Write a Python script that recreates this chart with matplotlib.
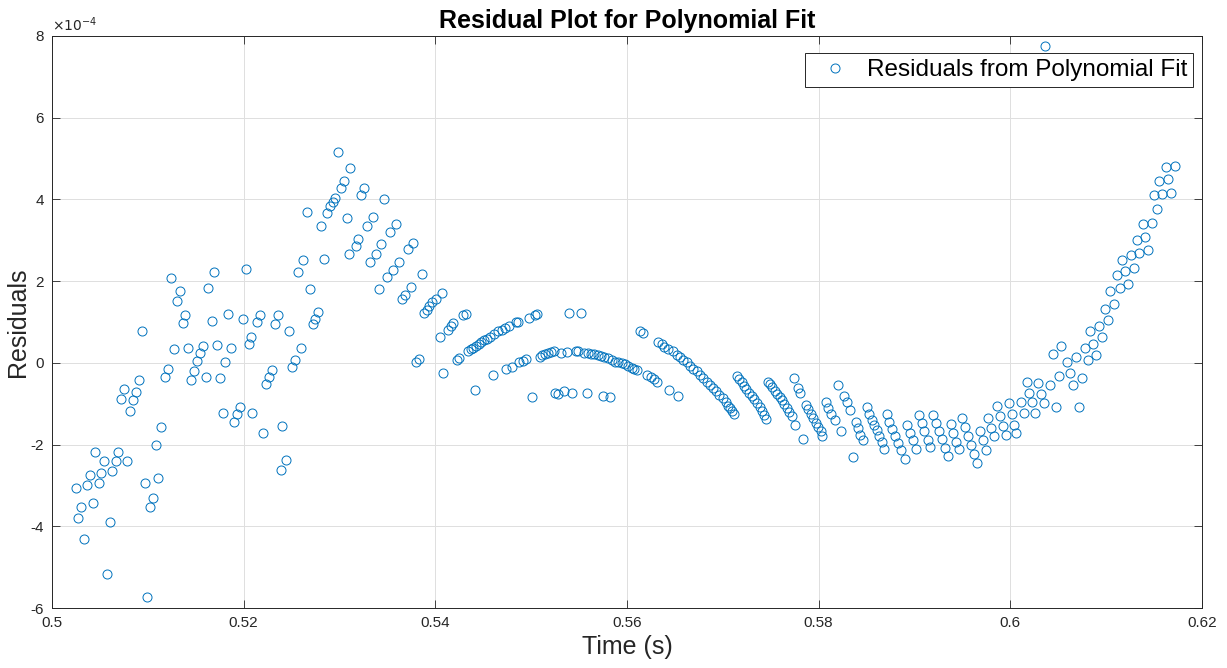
import matplotlib
matplotlib.use("Agg")
import matplotlib.pyplot as plt
import numpy as np

# residuals, time in s, residual in units of 1e-4
time_s = [
    0.50247, 0.50271, 0.50299, 0.50330, 0.50362, 0.50393, 0.50424, 0.50452, 0.50487, 0.50515,
    0.50546, 0.50577, 0.50608, 0.50629, 0.50664, 0.50692, 0.50723, 0.50755, 0.50786, 0.50814,
    0.50845, 0.50877, 0.50908, 0.50936, 0.50970, 0.50991, 0.51023, 0.51057, 0.51082, 0.51103,
    0.51140, 0.51179, 0.51207, 0.51239, 0.51273, 0.51301, 0.51333, 0.51364, 0.51385, 0.51419,
    0.51447, 0.51478, 0.51510, 0.51541, 0.51572, 0.51604, 0.51631, 0.51666, 0.51694, 0.51722,
    0.51750, 0.51781, 0.51808, 0.51840, 0.51871, 0.51899, 0.51934, 0.51965, 0.51993, 0.52024,
    0.52059, 0.52077, 0.52090, 0.52136, 0.52170, 0.52199, 0.52230, 0.52268, 0.52296, 0.52324,
    0.52358, 0.52386, 0.52403, 0.52442, 0.52473, 0.52501, 0.52532, 0.52563, 0.52595, 0.52622,
    0.52661, 0.52689, 0.52720, 0.52748, 0.52772, 0.52804, 0.52835, 0.52873, 0.52904, 0.52929,
    0.52956, 0.52984, 0.53016, 0.53051, 0.53075, 0.53102, 0.53110, 0.53169, 0.53197, 0.53225,
    0.53260, 0.53287, 0.53318, 0.53350, 0.53384, 0.53409, 0.53433, 0.53465, 0.53499, 0.53524,
    0.53561, 0.53587, 0.53617, 0.53652, 0.53684, 0.53711, 0.53746, 0.53763, 0.53795, 0.53830,
    0.53857, 0.53885, 0.53910, 0.53937, 0.53969, 0.54004, 0.54046, 0.54067, 0.54080, 0.54129,
    0.54163, 0.54188, 0.54223, 0.54247, 0.54292, 0.54317, 0.54344, 0.54370, 0.54396, 0.54416,
    0.54424, 0.54452, 0.54480, 0.54508, 0.54536, 0.54570, 0.54605, 0.54612, 0.54651, 0.54692,
    0.54730, 0.54734, 0.54769, 0.54797, 0.54842, 0.54863, 0.54876, 0.54915, 0.54946, 0.54974,
    0.55006, 0.55040, 0.55064, 0.55089, 0.55110, 0.55144, 0.55179, 0.55204, 0.55243, 0.55249,
    0.55277, 0.55311, 0.55346, 0.55371, 0.55398, 0.55430, 0.55465, 0.55492, 0.55517, 0.55555,
    0.55580, 0.55597, 0.55625, 0.55659, 0.55695, 0.55729, 0.55753, 0.55764, 0.55806, 0.55823,
    0.55847, 0.55875, 0.55910, 0.55945, 0.55979, 0.56014, 0.56049, 0.56076, 0.56109, 0.56136,
    0.56170, 0.56213, 0.56248, 0.56283, 0.56318, 0.56327, 0.56362, 0.56389, 0.56431, 0.56440,
    0.56477, 0.56518, 0.56532, 0.56553, 0.56588, 0.56623, 0.56657, 0.56692, 0.56727, 0.56762,
    0.56797, 0.56831, 0.56866, 0.56901, 0.56929, 0.56963, 0.56998, 0.57033, 0.57057, 0.57074,
    0.57091, 0.57118, 0.57145, 0.57169, 0.57197, 0.57221, 0.57245, 0.57273, 0.57301, 0.57329,
    0.57357, 0.57385, 0.57413, 0.57433, 0.57448, 0.57468, 0.57492, 0.57516, 0.57545, 0.57569,
    0.57594, 0.57618, 0.57642, 0.57670, 0.57694, 0.57717, 0.57740, 0.57753, 0.57780, 0.57808,
    0.57840, 0.57868, 0.57892, 0.57920, 0.57944, 0.57969, 0.57997, 0.58025, 0.58039, 0.58077,
    0.58101, 0.58129, 0.58171, 0.58205, 0.58230, 0.58264, 0.58292, 0.58327, 0.58355, 0.58390,
    0.58414, 0.58431, 0.58460, 0.58502, 0.58529, 0.58554, 0.58578, 0.58606, 0.58633, 0.58658,
    0.58685, 0.58716, 0.58737, 0.58762, 0.58796, 0.58831, 0.58856, 0.58901, 0.58925, 0.58953,
    0.58988, 0.59016, 0.59047, 0.59082, 0.59102, 0.59137, 0.59162, 0.59197, 0.59225, 0.59256,
    0.59291, 0.59319, 0.59347, 0.59382, 0.59406, 0.59434, 0.59465, 0.59500, 0.59528, 0.59556,
    0.59590, 0.59622, 0.59650, 0.59684, 0.59713, 0.59744, 0.59771, 0.59800, 0.59834, 0.59859,
    0.59893, 0.59921, 0.59953, 0.59987, 0.60015, 0.60042, 0.60055, 0.60111, 0.60139, 0.60174,
    0.60198, 0.60226, 0.60254, 0.60289, 0.60320, 0.60347, 0.60362, 0.60410, 0.60441, 0.60472,
    0.60503, 0.60532, 0.60595, 0.60623, 0.60651, 0.60686, 0.60717, 0.60745, 0.60779, 0.60807,
    0.60832, 0.60866, 0.60894, 0.60925, 0.60957, 0.60988, 0.61016, 0.61040, 0.61080, 0.61110,
    0.61142, 0.61169, 0.61200, 0.61232, 0.61256, 0.61291, 0.61319, 0.61346, 0.61381, 0.61409,
    0.61440, 0.61475, 0.61500, 0.61534, 0.61555, 0.61586, 0.61621, 0.61649, 0.61677, 0.61719,
]
resid_e4 = [
    -3.06, -3.80, -3.54, -4.30, -2.99, -2.74, -3.44, -2.19, -2.94, -2.70,
    -2.41, -5.17, -3.89, -2.64, -2.41, -2.17, -0.88, -0.65, -2.39, -1.17,
    -0.92, -0.71, -0.43, 0.79, -2.95, -5.72, -3.52, -3.30, -2.02, -2.81,
    -1.56, -0.34, -0.15, 2.08, 0.33, 1.52, 1.76, 0.98, 1.17, 0.37,
    -0.43, -0.20, 0.04, 0.23, 0.41, -0.34, 1.84, 1.03, 2.23, 0.43,
    -0.37, -1.22, 0.02, 1.19, 0.37, -1.44, -1.25, -1.08, 1.08, 2.30,
    0.47, 0.64, -1.22, 0.99, 1.17, -1.71, -0.51, -0.34, -0.17, 0.96,
    1.16, -2.62, -1.55, -2.37, 0.78, -0.10, 0.07, 2.23, 0.37, 2.52,
    3.70, 1.80, 0.94, 1.07, 1.25, 3.36, 2.54, 3.66, 3.84, 3.93,
    4.03, 5.17, 4.28, 4.44, 3.54, 2.66, 4.77, 2.86, 3.02, 4.12,
    4.28, 3.36, 2.46, 3.57, 2.67, 1.80, 2.90, 4.01, 2.10, 3.20,
    2.28, 3.41, 2.48, 1.57, 1.66, 2.78, 1.85, 2.93, 0.02, 0.10,
    2.17, 1.23, 1.30, 1.40, 1.48, 1.56, 0.64, 1.71, -0.24, 0.81,
    0.91, 0.97, 0.06, 0.11, 1.17, 1.20, 0.29, 0.33, 0.37, -0.66,
    0.42, 0.46, 0.51, 0.55, 0.59, 0.64, -0.29, 0.70, 0.77, 0.81,
    0.85, -0.14, 0.89, -0.11, 0.99, 1.01, 0.01, 0.05, 0.09, 1.11,
    -0.84, 1.17, 1.19, 0.15, 0.20, 0.22, 0.25, 0.27, 0.28, -0.74,
    -0.77, 0.25, -0.70, 0.26, 1.23, -0.74, 0.28, 0.28, 1.22, 0.25,
    -0.75, 0.24, 0.22, 0.21, 0.20, 0.17, -0.82, 0.14, 0.11, -0.84,
    0.06, 0.03, 0.01, -0.01, -0.04, -0.07, -0.12, -0.15, -0.17, 0.79,
    0.74, -0.29, -0.35, -0.40, -0.46, 0.52, 0.47, 0.40, 0.34, -0.66,
    0.28, 0.20, -0.81, 0.14, 0.07, 0.01, -0.07, -0.14, -0.21, -0.29,
    -0.37, -0.46, -0.54, -0.62, -0.70, -0.78, -0.86, -0.95, -1.05, -1.11,
    -1.19, -1.25, -0.32, -0.40, -0.48, -0.56, -0.64, -0.73, -0.81, -0.89,
    -0.99, -1.08, -1.19, -1.27, -1.38, -0.46, -0.51, -0.59, -0.68, -0.76,
    -0.84, -0.92, -1.01, -1.11, -1.21, -1.31, -0.37, -1.52, -0.62, -0.74,
    -1.87, -1.03, -1.13, -1.25, -1.35, -1.46, -1.56, -1.68, -1.80, -0.95,
    -1.11, -1.25, -1.39, -0.53, -1.68, -0.81, -0.97, -1.15, -2.31, -1.44,
    -1.60, -1.76, -1.90, -1.08, -1.25, -1.39, -1.52, -1.64, -1.79, -1.93,
    -2.10, -1.26, -1.44, -1.62, -1.80, -1.95, -2.13, -2.36, -1.53, -1.71,
    -1.90, -2.11, -1.27, -1.48, -1.68, -1.88, -2.07, -1.27, -1.48, -1.66,
    -1.87, -2.09, -2.28, -1.49, -1.71, -1.93, -2.11, -1.35, -1.57, -1.79,
    -2.01, -2.23, -2.44, -1.66, -1.90, -2.13, -1.35, -1.60, -1.80, -1.05,
    -1.30, -1.54, -1.76, -0.99, -1.26, -1.52, -1.72, -0.97, -1.22, -0.48,
    -0.74, -0.97, -1.22, -0.50, -0.76, -0.99, 7.76, -0.54, 0.21, -1.07,
    -0.33, 0.42, 0.01, -0.25, -0.54, 0.15, -1.08, -0.37, 0.36, 0.06,
    0.78, 0.46, 0.20, 0.89, 0.63, 1.32, 1.04, 1.75, 1.44, 2.15,
    1.84, 2.52, 2.26, 1.93, 2.63, 2.32, 3.01, 2.70, 3.40, 3.07,
    2.77, 3.43, 4.12, 3.77, 4.44, 4.14, 4.80, 4.50, 4.15, 4.82,
]

xticks = [0.5, 0.52, 0.54, 0.56, 0.58, 0.6, 0.62]
xtick_labels = ['0.5', '0.52', '0.54', '0.56', '0.58', '0.6', '0.62']
yticks = [-6, -4, -2, 0, 2, 4, 6, 8]
ytick_labels = ['-6', '-4', '-2', '0', '2', '4', '6', '8']

plt.rcParams['font.family'] = ['Liberation Sans', 'DejaVu Sans']
plt.rcParams['axes.unicode_minus'] = False

fig = plt.figure(figsize=(12.27, 6.68), dpi=100)
ax = fig.add_axes([0.04238, 0.08982, 0.93725, 0.85629])

ax.plot(np.array(time_s), np.array(resid_e4), 'o', linestyle='none',
        markersize=6.5, markerfacecolor='none', markeredgecolor='#0072BD',
        markeredgewidth=0.7, label='Residuals from Polynomial Fit')

ax.set_xlim(0.5, 0.62)
ax.set_ylim(-6, 8)
ax.set_xticks(xticks)
ax.set_xticklabels(xtick_labels)
ax.set_yticks(yticks)
ax.set_yticklabels(ytick_labels)
ax.tick_params(direction='in', length=6, width=0.6, color='#262626',
               labelsize=11, labelcolor='#262626', top=True, right=True, pad=6)

ax.grid(True, color='#dfdfdf', linewidth=0.7)
ax.set_axisbelow(True)
for s in ax.spines.values():
    s.set_color('#262626')
    s.set_linewidth(0.7)

ax.text(0.0, 1.004, r'$\times10^{-4}$', transform=ax.transAxes,
        fontsize=10, color='#262626', ha='left', va='bottom')

ax.set_title('Residual Plot for Polynomial Fit', fontsize=18, fontweight='bold', pad=6)
ax.set_xlabel('Time (s)', fontsize=18, color='#262626', labelpad=3)
ax.set_ylabel('Residuals', fontsize=18, color='#262626', labelpad=0)

leg = ax.legend(loc='upper right', bbox_to_anchor=(0.9922, 0.9703), borderaxespad=0,
                fontsize=17.5, fancybox=False, framealpha=1, edgecolor='#262626',
                borderpad=0.25, handlelength=2.0, handletextpad=0.3)
leg.get_frame().set_linewidth(0.7)

plt.savefig('out.png', dpi=100)
